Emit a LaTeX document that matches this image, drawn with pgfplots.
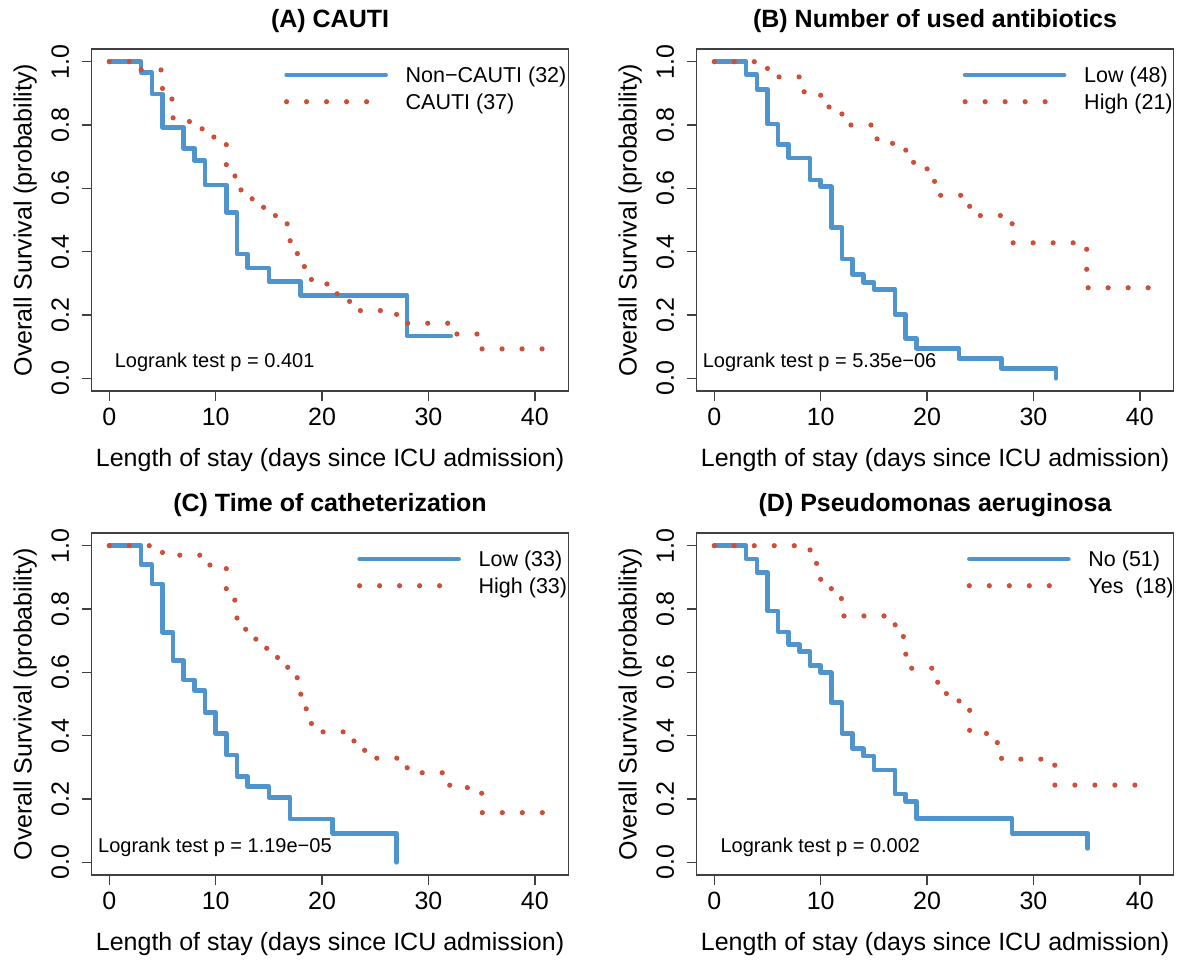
\documentclass[border=0pt]{standalone}
\usepackage{fontspec}
\setmainfont{Liberation Sans}
\usepackage{pgfplots}
\pgfplotsset{compat=1.18}
\definecolor{kmblue}{RGB}{79,148,205}
\definecolor{kmred}{RGB}{205,79,57}
\pgfplotsset{
  kmaxis/.style={
    scale only axis, width=238.45pt, height=171pt,
    xmin=-1.66, xmax=43.16, ymin=-0.04, ymax=1.04,
    xtick={0,10,20,30,40}, ytick={0,0.2,0.4,0.6,0.8,1.0},
    tick align=outside, xtick pos=left, ytick pos=left,
    major tick length=5pt,
    axis line style={draw=black!75, line width=0.65pt},
    tick style={draw=black!75, line width=0.65pt},
    /pgf/number format/assume math mode=true,
    tick label style={font=\fontsize{12.5}{15}\selectfont, black},
    yticklabel style={/pgf/number format/fixed, /pgf/number format/fixed zerofill, /pgf/number format/precision=1, rotate=90, anchor=south, inner sep=6pt},
    every axis x label/.style={at={(axis description cs:0.5,-0.2213)}, anchor=base, font=\fontsize{12.5}{15}\selectfont},
    every axis y label/.style={at={(axis description cs:-0.1258,0.5)}, rotate=90, anchor=base, font=\fontsize{12.5}{15}\selectfont},
    every axis title/.style={at={(axis description cs:0.5,1.064)}, anchor=base, font=\bfseries\fontsize{12.5}{15}\selectfont},
    xlabel={Length of stay (days since ICU admission)},
    ylabel={Overall Survival (probability)},
    legend cell align=left,
    legend style={draw=none, fill=none, inner sep=0pt, outer sep=0pt, row sep=0pt, column sep=8.9pt, font=\fontsize{10.75}{12}\selectfont, nodes={inner sep=0pt, text height=10.5pt, text depth=2.85pt}, anchor=north west},
  },
  bluekm/.style={const plot, draw=kmblue, line width=2.3pt, line cap=round, line join=round, no markers,
    legend image code/.code={\draw[kmblue, line width=2.3pt, line cap=round] (0pt,0pt) -- (49.5pt,0pt);}},
  redkm/.style={const plot, draw=kmred, line width=2.6pt, line cap=round, dash pattern=on 0pt off 10pt, no markers,
    legend image code/.code={\draw[kmred, line width=2.6pt, line cap=round, dash pattern=on 0pt off 10pt] (0pt,0pt) -- (40.5pt,0pt);}},
}
\begin{document}
\begin{tikzpicture}
\path[use as bounding box] (0,0) rectangle (589pt,-479.5pt);

% (A)
\begin{axis}[kmaxis, at={(45.8pt,-24.5pt)}, anchor=north west,
  title={(A) CAUTI},
  legend style={at={(axis description cs:0.4034,0.963)}}]
\addplot[bluekm] coordinates {(0,1) (3,0.966) (4,0.898) (5,0.793) (7,0.726) (8,0.687) (9,0.611) (11,0.523) (12,0.393) (13,0.349) (15,0.305) (18,0.262) (28,0.134) (32.1,0.134)};
\addlegendentry{Non−CAUTI (32)}
\addplot[redkm] coordinates {(0,1) (3,0.974) (5,0.882) (6,0.811) (8,0.788) (9,0.762) (11,0.639) (12,0.595) (13,0.567) (14,0.540) (15,0.514) (16,0.488) (17,0.394) (18,0.353) (19,0.298) (21,0.267) (22,0.243) (23,0.214) (27,0.174) (32,0.140) (35,0.093) (41.3,0.093)};
\addlegendentry{CAUTI (37)}
\node[anchor=base west, inner sep=0pt, font=\fontsize{10}{12}\selectfont] at (axis cs:0.49,0.033) {Logrank test p = 0.401};
\end{axis}

% (B)
\begin{axis}[kmaxis, at={(348.3pt,-24.5pt)}, anchor=north west,
  title={(B) Number of used antibiotics},
  legend style={at={(axis description cs:0.5576,0.963)}}]
\addplot[bluekm] coordinates {(0,1) (3,0.96) (4,0.913) (5,0.803) (6,0.739) (7,0.696) (9,0.626) (10,0.605) (11,0.476) (12,0.377) (13,0.328) (14,0.303) (15,0.281) (17,0.202) (18,0.126) (19,0.095) (23,0.063) (27,0.032) (32.1,0.0)};
\addlegendentry{Low (48)}
\addplot[redkm] coordinates {(0,1) (5,0.952) (8,0.905) (10,0.857) (12,0.80) (15.3,0.742) (18,0.682) (20,0.622) (21,0.578) (24,0.514) (28,0.428) (35,0.286) (41.5,0.286)};
\addlegendentry{High (21)}
\node[anchor=base west, inner sep=0pt, font=\fontsize{10}{12}\selectfont] at (axis cs:-1.11,0.034) {Logrank test p = 5.35e−06};
\end{axis}

% (C)
\begin{axis}[kmaxis, at={(45.8pt,-266.5pt)}, anchor=north west,
  title={(C) Time of catheterization},
  legend style={at={(axis description cs:0.5565,0.963)}}]
\addplot[bluekm] coordinates {(0,1) (3,0.941) (4,0.879) (5,0.726) (6,0.637) (7,0.576) (8,0.542) (9,0.474) (10,0.407) (11,0.339) (12,0.271) (13,0.239) (15,0.205) (17,0.137) (21,0.092) (27,0.0)};
\addlegendentry{Low (33)}
\addplot[redkm] coordinates {(0,1) (5,0.970) (9,0.939) (11,0.828) (12,0.736) (13,0.705) (14,0.676) (15,0.647) (16,0.616) (17,0.583) (18,0.485) (19,0.412) (23,0.37) (24,0.329) (28,0.283) (32,0.236) (35,0.157) (41.3,0.157)};
\addlegendentry{High (33)}
\node[anchor=base west, inner sep=0pt, font=\fontsize{10}{12}\selectfont] at (axis cs:-1.08,0.032) {Logrank test p = 1.19e−05};
\end{axis}

% (D)
\begin{axis}[kmaxis, at={(348.3pt,-266.5pt)}, anchor=north west,
  title={(D) Pseudomonas aeruginosa},
  legend style={at={(axis description cs:0.5664,0.963)}}]
\addplot[bluekm] coordinates {(0,1) (3,0.958) (4,0.916) (5,0.794) (6,0.728) (7,0.688) (8,0.665) (9,0.621) (10,0.599) (11,0.504) (12,0.407) (13,0.359) (14,0.336) (15,0.292) (17,0.216) (18,0.192) (19,0.139) (28,0.092) (35.1,0.044)};
\addlegendentry{No (51)}
\addplot[redkm] coordinates {(0,1) (9,0.944) (10,0.889) (11,0.833) (12,0.778) (17,0.713) (18,0.613) (21,0.533) (23,0.49) (24,0.407) (26,0.378) (27,0.326) (32,0.244) (40.3,0.244)};
\addlegendentry{Yes\ \ (18)}
\node[anchor=base west, inner sep=0pt, font=\fontsize{10}{12}\selectfont] at (axis cs:0.55,0.032) {Logrank test p = 0.002};
\end{axis}
\end{tikzpicture}
\end{document}
